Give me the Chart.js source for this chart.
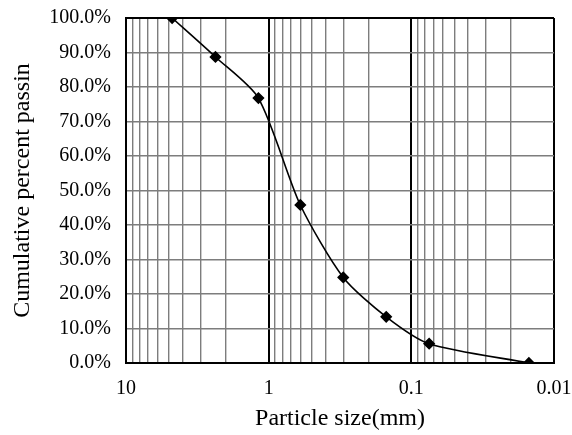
<!DOCTYPE html>
<html>
<head>
<meta charset="utf-8">
<script src="https://cdn.jsdelivr.net/npm/chart.js@4"></script>
<style>
  html, body { margin: 0; padding: 0; background: #fff; }
  #wrap { width: 572px; height: 435px; }
</style>
</head>
<body>
<div id="wrap"><canvas id="c" width="572" height="435"></canvas></div>
<script>
// Particle sizes (mm) of the marked points
const sizes = [4.75, 2.36, 1.18, 0.6, 0.3, 0.15, 0.075, 0.015];
// Cumulative percent passing (%)
const passing = [100, 88.7, 76.8, 45.8, 24.8, 13.4, 5.6, 0];
// Labelled x ticks (decades)
const xTickLabels = [10, 1, 0.1, 0.01];
// Minor gridline multipliers inside each decade
const minorMultipliers = [1, 2, 3, 4, 5, 6, 7, 8, 9];
// Y ticks
const yTicks = [0, 10, 20, 30, 40, 50, 60, 70, 80, 90, 100];

const FONT = "'Liberation Serif', 'DejaVu Serif', serif";

const points = sizes.map((s, i) => ({ x: s, y: passing[i] }));

const xGridValues = [];
[0.01, 0.1, 1].forEach(d => minorMultipliers.forEach(m => xGridValues.push(+(d * m).toPrecision(3))));
xGridValues.push(10);

const isDecade = v => xTickLabels.some(t => Math.abs(t - v) < 1e-9);

new Chart(document.getElementById('c'), {
  type: 'scatter',
  data: {
    datasets: [{
      data: points,
      showLine: true,
      borderColor: '#000',
      backgroundColor: '#000',
      borderWidth: 1.6,
      tension: 0.25,
      pointStyle: 'rectRot',
      pointRadius: 5,
      pointHoverRadius: 5
    }]
  },
  options: {
    responsive: false,
    animation: false,
    devicePixelRatio: 1,
    layout: { padding: { top: 18, right: 18, bottom: 2, left: 8 } },
    plugins: { legend: { display: false }, tooltip: { enabled: false } },
    scales: {
      x: {
        type: 'logarithmic',
        reverse: true,
        min: 0.01,
        max: 10,
        afterBuildTicks: axis => { axis.ticks = xGridValues.map(v => ({ value: v })); },
        afterFit: axis => { axis.height = 70; },
        ticks: {
          autoSkip: false,
          maxRotation: 0,
          color: '#000',
          font: { family: FONT, size: 20 },
          padding: 14,
          callback: v => isDecade(v) ? String(v) : ''
        },
        grid: {
          color: ctx => isDecade(ctx.tick.value) ? '#000' : '#7d7d7d',
          lineWidth: ctx => isDecade(ctx.tick.value) ? 2 : 1.4,
          drawTicks: false
        },
        border: { display: true, color: '#000', width: 2 },
        title: {
          display: true,
          text: 'Particle size(mm)',
          color: '#000',
          font: { family: FONT, size: 24 },
          padding: { top: 0, bottom: 0 }
        }
      },
      y: {
        min: 0,
        max: 100,
        afterBuildTicks: axis => { axis.ticks = yTicks.map(v => ({ value: v })); },
        afterFit: axis => { axis.width = 118; },
        ticks: {
          color: '#000',
          font: { family: FONT, size: 20 },
          padding: 2,
          callback: v => v.toFixed(1) + '%'
        },
        grid: {
          color: ctx => (ctx.tick.value === 0 || ctx.tick.value === 100) ? '#000' : '#7d7d7d',
          lineWidth: ctx => (ctx.tick.value === 0 || ctx.tick.value === 100) ? 2 : 1.4,
          drawTicks: true,
          tickLength: 13,
          tickColor: 'rgba(0,0,0,0)'
        },
        border: { display: true, color: '#000', width: 2 },
        title: {
          display: true,
          text: 'Cumulative percent passin',
          color: '#000',
          font: { family: FONT, size: 24 },
          padding: { top: 0, bottom: 4 }
        }
      }
    }
  }
});
</script>
</body>
</html>
